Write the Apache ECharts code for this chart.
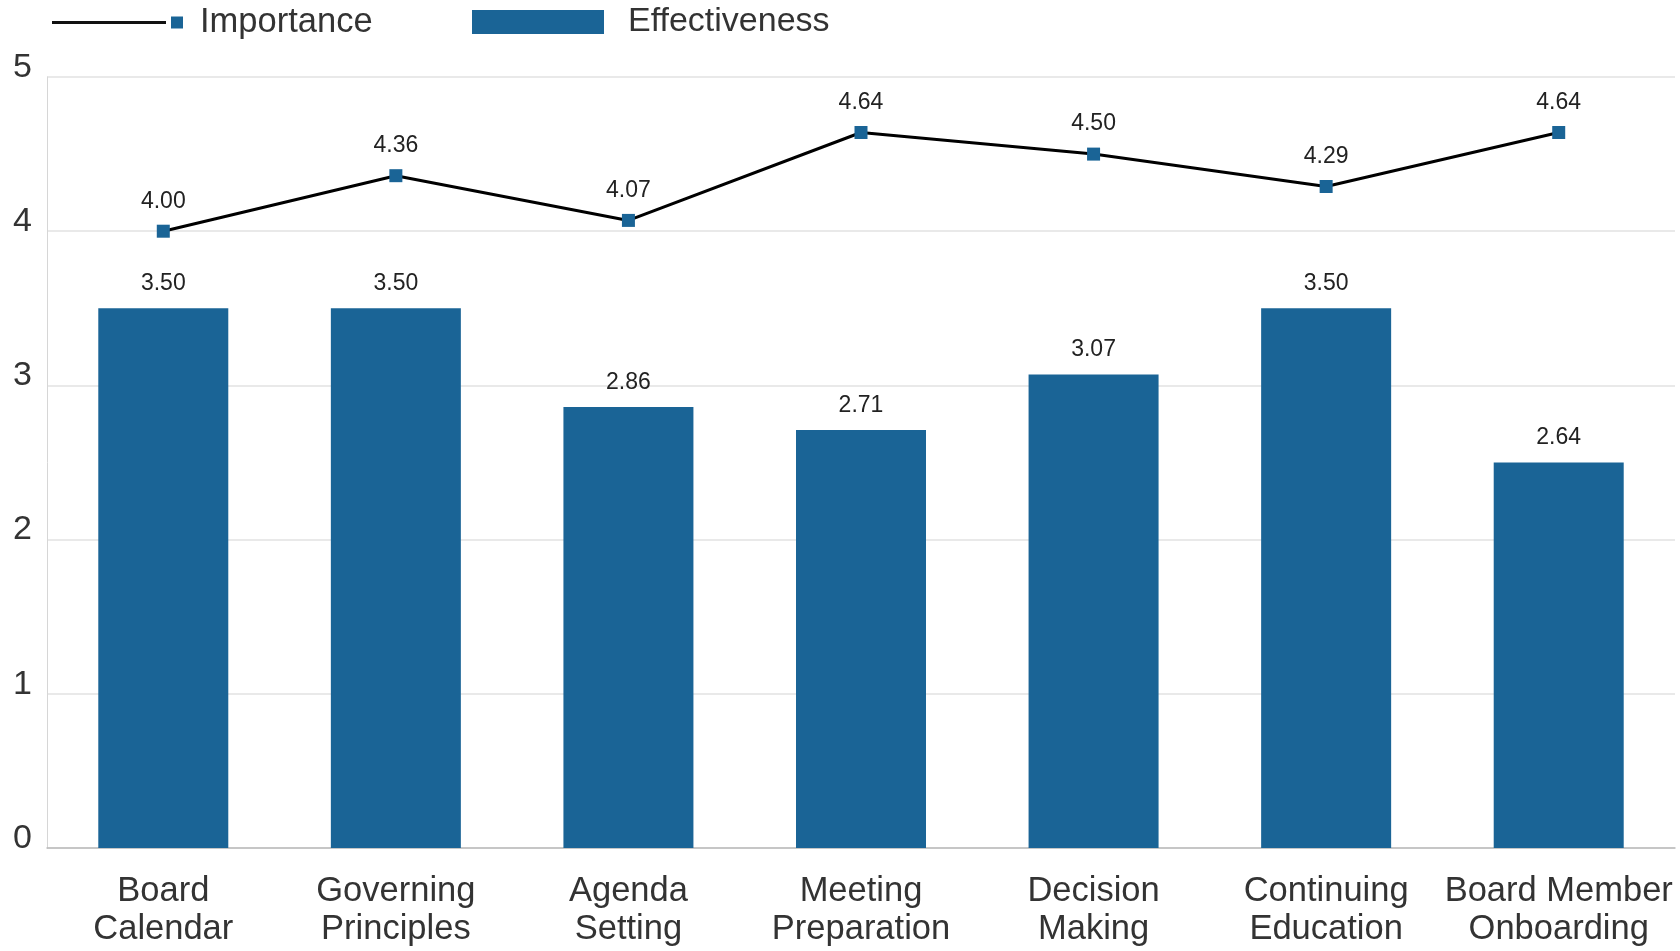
<!DOCTYPE html>
<html>
<head>
<meta charset="utf-8">
<script src="https://cdn.jsdelivr.net/npm/echarts@6/dist/echarts.min.js"></script>
<style>
  html, body { margin: 0; padding: 0; background: #fff; }
  #main { width: 1680px; height: 951px; }
</style>
</head>
<body>
<div id="main"></div>
<script>
// data
var categories = ['Board\nCalendar', 'Governing\nPrinciples', 'Agenda\nSetting', 'Meeting\nPreparation',
  'Decision\nMaking', 'Continuing\nEducation', 'Board Member\nOnboarding'];
var importance = [4.00, 4.36, 4.07, 4.64, 4.50, 4.29, 4.64];
// bar heights as drawn, labels as printed
var effectiveness = [3.50, 3.50, 2.86, 2.71, 3.07, 3.50, 2.50];
var effectivenessLabels = ['3.50', '3.50', '2.86', '2.71', '3.07', '3.50', '2.64'];
var yTicks = [0, 1, 2, 3, 4, 5];

var FONT = 'Liberation Sans, Arial, sans-serif';
var BLUE = '#1a6496';

var chart = echarts.init(document.getElementById('main'));

var option = {
  animation: false,
  legend: [
    {
      left: 47,
      top: 0,
      itemWidth: 114,
      itemHeight: 24,
      data: [{
        name: 'Importance',
        // thin line, bounding box widened by the move points
        icon: 'path://M0,0 M114,24 M0,10.5 L114,10.5 L114,13.5 L0,13.5 Z',
        itemStyle: { color: '#111' }
      }],
      formatter: function (name) { return '{m|}{s|}' + name; },
      textStyle: {
        fontFamily: FONT, fontSize: 34.5, color: '#333',
        rich: {
          m: { width: 12, height: 12, backgroundColor: BLUE },
          s: { width: 17 }
        }
      }
    },
    {
      left: 467,
      top: 0,
      itemWidth: 132,
      itemHeight: 24,
      data: [{ name: 'Effectiveness', icon: 'rect' }],
      formatter: function (name) { return '{s|}' + name; },
      textStyle: {
        fontFamily: FONT, fontSize: 34, color: '#333',
        rich: { s: { width: 19 } }
      }
    }
  ],
  grid: { left: 47, right: 5, top: 77, bottom: 103 },
  xAxis: {
    type: 'category',
    data: categories,
    axisTick: { show: false },
    axisLine: { lineStyle: { color: '#bbb', width: 1.5 } },
    axisLabel: {
      interval: 0,
      margin: 24,
      fontFamily: FONT,
      fontSize: 34.5,
      lineHeight: 38,
      color: '#333'
    }
  },
  yAxis: {
    type: 'value',
    min: yTicks[0],
    max: yTicks[yTicks.length - 1],
    interval: 1,
    axisLine: { show: true, lineStyle: { color: '#d6d6d6' } },
    axisTick: { show: false },
    splitLine: { lineStyle: { color: '#e2e2e2', width: 1.5 } },
    axisLabel: {
      margin: 15,
      fontFamily: FONT,
      fontSize: 34,
      color: '#333',
      verticalAlign: 'bottom',
      lineHeight: 19
    }
  },
  series: [
    {
      name: 'Effectiveness',
      type: 'bar',
      data: effectiveness,
      barWidth: 130,
      itemStyle: { color: BLUE },
      label: {
        show: true,
        position: 'top',
        distance: 13,
        fontFamily: FONT,
        fontSize: 23,
        color: '#222',
        formatter: function (p) { return effectivenessLabels[p.dataIndex]; }
      },
      z: 2
    },
    {
      name: 'Importance',
      type: 'line',
      data: importance,
      symbol: 'rect',
      symbolSize: 13,
      itemStyle: { color: BLUE },
      lineStyle: { color: '#000', width: 3 },
      label: {
        show: true,
        position: 'top',
        distance: 12,
        fontFamily: FONT,
        fontSize: 23,
        color: '#222',
        formatter: function (p) { return p.value.toFixed(2); }
      },
      z: 3
    }
  ]
};

chart.setOption(option);
</script>
</body>
</html>
